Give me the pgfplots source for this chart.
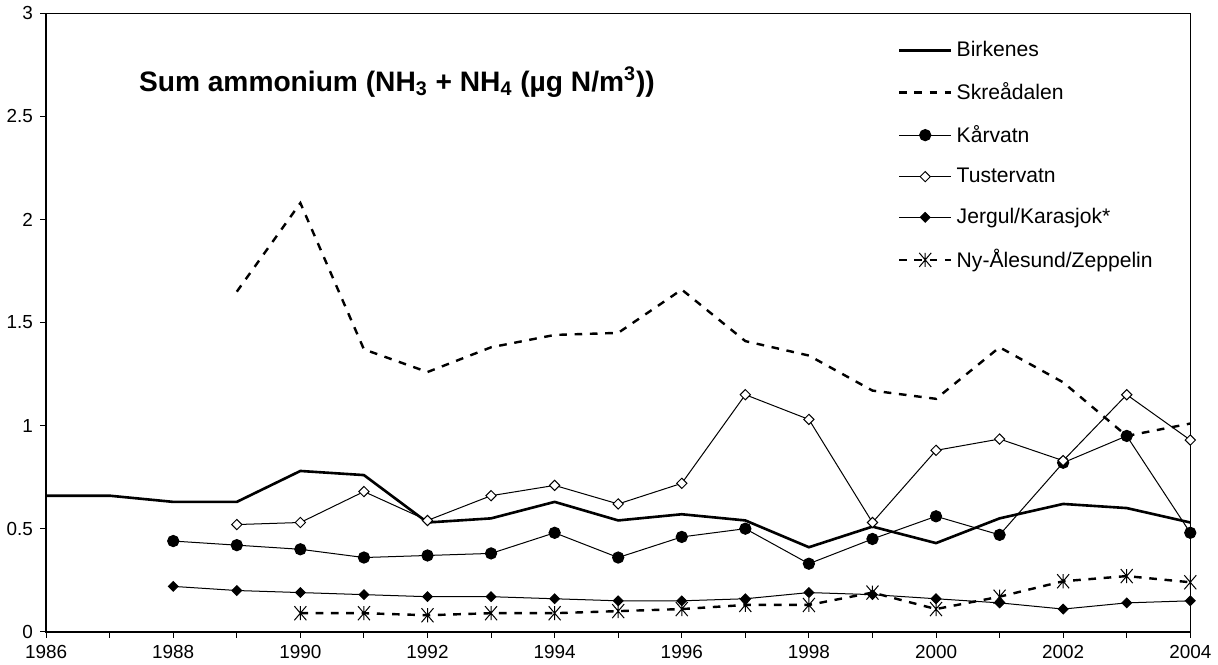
\documentclass[border=0pt]{standalone}
\usepackage{fontspec}
\setmainfont{Liberation Sans}
\usepackage{pgfplots}
\pgfplotsset{compat=1.18}
\pgfdeclareplotmark{xstar}{%
 \pgfpathmoveto{\pgfqpoint{-.85\pgfplotmarksize}{-\pgfplotmarksize}}%
 \pgfpathlineto{\pgfqpoint{.85\pgfplotmarksize}{\pgfplotmarksize}}%
 \pgfpathmoveto{\pgfqpoint{-.85\pgfplotmarksize}{\pgfplotmarksize}}%
 \pgfpathlineto{\pgfqpoint{.85\pgfplotmarksize}{-\pgfplotmarksize}}%
 \pgfpathmoveto{\pgfqpoint{0pt}{-\pgfplotmarksize}}%
 \pgfpathlineto{\pgfqpoint{0pt}{\pgfplotmarksize}}%
 \pgfusepathqstroke}
\begin{document}
\begin{tikzpicture}
\begin{axis}[
  scale only axis,
  width=569pt, height=307.5pt,
  xmin=1986, xmax=2004, ymin=0, ymax=3,
  xtick={1986,1988,...,2004},
  minor xtick={1987,1989,...,2003},
  ytick={0,0.5,...,3},
  yticklabels={0,0.5,1,1.5,2,2.5,3},
  xtick pos=bottom, ytick pos=left,
  tick align=outside,
  major tick length=3pt, minor tick length=3pt,
  tick style={black, line width=0.5pt},
  every minor tick/.style={black, line width=0.5pt},
  axis line style={line width=0.5pt},
  /pgf/number format/assume math mode=true,
  xticklabel style={/pgf/number format/1000 sep={}, font=\fontsize{9.4}{11}\selectfont},
  yticklabel style={font=\fontsize{9.4}{11}\selectfont},
  legend cell align=left,
  legend style={at={(0.744,0.962)}, anchor=north west, draw=none, fill=none,
    font=\fontsize{10.5}{12}\selectfont, row sep=7.3pt, inner sep=0pt},
  legend image code/.code={\draw[mark repeat=2,mark phase=2,#1] plot coordinates {(0pt,0pt) (13pt,0pt) (26pt,0pt)};},
  clip=false,
]
\addplot[black, line width=1.3pt, mark=none] coordinates {
(1986,0.66) (1987,0.66) (1988,0.63) (1989,0.63) (1990,0.78) (1991,0.76)
(1992,0.53) (1993,0.55) (1994,0.63) (1995,0.54) (1996,0.57) (1997,0.54)
(1998,0.41) (1999,0.51) (2000,0.43) (2001,0.55) (2002,0.62) (2003,0.60) (2004,0.53)};
\addlegendentry{Birkenes}
\addplot[black, line width=1.2pt, dash pattern=on 3.8pt off 3.8pt, mark=none] coordinates {
(1989,1.65) (1990,2.08) (1991,1.37) (1992,1.26) (1993,1.38) (1994,1.44)
(1995,1.45) (1996,1.66) (1997,1.41) (1998,1.34) (1999,1.17) (2000,1.13)
(2001,1.38) (2002,1.21) (2003,0.95) (2004,1.01)};
\addlegendentry{Skreådalen}
\addplot[black, line width=0.5pt, mark=*, mark size=2.8pt, mark options={fill=black}] coordinates {
(1988,0.44) (1989,0.42) (1990,0.40) (1991,0.36) (1992,0.37) (1993,0.38)
(1994,0.48) (1995,0.36) (1996,0.46) (1997,0.50) (1998,0.33) (1999,0.45)
(2000,0.56) (2001,0.47) (2002,0.82) (2003,0.95) (2004,0.48)};
\addlegendentry{Kårvatn}
\addplot[black, line width=0.5pt, mark=square*, mark size=1.8pt, mark options={fill=white, rotate=45}] coordinates {
(1989,0.52) (1990,0.53) (1991,0.68) (1992,0.54) (1993,0.66) (1994,0.71)
(1995,0.62) (1996,0.72) (1997,1.15) (1998,1.03) (1999,0.53) (2000,0.88)
(2001,0.935) (2002,0.83) (2003,1.15) (2004,0.93)};
\addlegendentry{Tustervatn}
\addplot[black, line width=0.5pt, mark=square*, mark size=1.7pt, mark options={fill=black, rotate=45}] coordinates {
(1988,0.22) (1989,0.20) (1990,0.19) (1991,0.18) (1992,0.17) (1993,0.17)
(1994,0.16) (1995,0.15) (1996,0.15) (1997,0.16) (1998,0.19) (1999,0.18)
(2000,0.16) (2001,0.14) (2002,0.11) (2003,0.14) (2004,0.15)};
\addlegendentry{Jergul/Karasjok*}
\addplot[black, line width=1.2pt, dash pattern=on 3.8pt off 3.8pt, mark=xstar, mark size=3.5pt, mark options={solid, line width=0.5pt}] coordinates {
(1990,0.09) (1991,0.09) (1992,0.08) (1993,0.09) (1994,0.09) (1995,0.10)
(1996,0.11) (1997,0.13) (1998,0.13) (1999,0.19) (2000,0.11) (2001,0.17)
(2002,0.245) (2003,0.27) (2004,0.24)};
\addlegendentry{Ny-Ålesund/Zeppelin}
\node[anchor=base west, font=\fontsize{14}{17}\selectfont\bfseries] at (rel axis cs:0.075,0.874)
  {Sum ammonium (NH\textsubscript{3} + NH\textsubscript{4} (µg N/m\textsuperscript{3}))};
\end{axis}
\draw[line width=1.1pt] (current axis.north west) -- (current axis.south west) -- (current axis.south east);
\end{tikzpicture}
\end{document}
